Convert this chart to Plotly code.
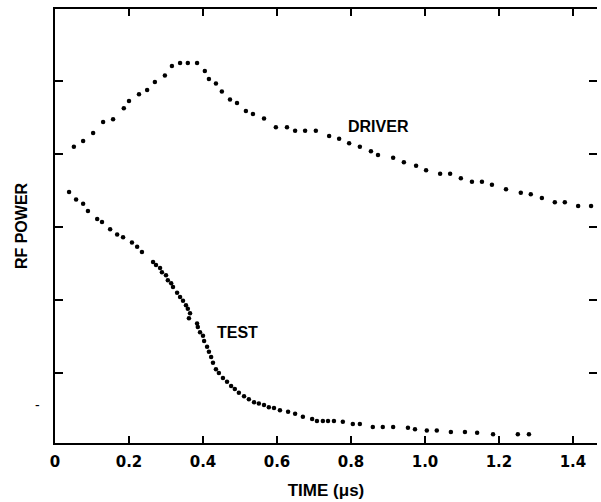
import plotly.graph_objects as go

# driver pulse
driver_t = [0.051, 0.076, 0.103, 0.130, 0.157, 0.186, 0.200, 0.227, 0.249, 0.270,
            0.297, 0.316, 0.338, 0.359, 0.384, 0.405, 0.416, 0.435, 0.451, 0.473,
            0.492, 0.516, 0.535, 0.565, 0.597, 0.627, 0.649, 0.676, 0.705, 0.741,
            0.768, 0.795, 0.824, 0.854, 0.873, 0.914, 0.943, 0.976, 1.003, 1.041,
            1.068, 1.097, 1.127, 1.154, 1.181, 1.219, 1.259, 1.286, 1.316, 1.351,
            1.378, 1.414, 1.449]
driver_p = [4.10, 4.18, 4.29, 4.44, 4.48, 4.63, 4.73, 4.82, 4.88, 4.99,
            5.08, 5.21, 5.25, 5.25, 5.25, 5.14, 5.03, 4.97, 4.86, 4.75,
            4.70, 4.59, 4.55, 4.49, 4.37, 4.37, 4.32, 4.32, 4.32, 4.25,
            4.21, 4.15, 4.10, 4.04, 3.99, 3.95, 3.89, 3.84, 3.78, 3.73,
            3.73, 3.67, 3.62, 3.62, 3.58, 3.52, 3.47, 3.45, 3.40, 3.34,
            3.34, 3.29, 3.29]

# test pulse
test_t = [0.038, 0.057, 0.076, 0.089, 0.114, 0.127, 0.149, 0.168, 0.184, 0.208,
          0.222, 0.235, 0.265, 0.273, 0.284, 0.289, 0.300, 0.305, 0.314, 0.319,
          0.330, 0.338, 0.346, 0.354, 0.359, 0.365, 0.362, 0.384, 0.386, 0.392,
          0.400, 0.403, 0.411, 0.416, 0.422, 0.427, 0.435, 0.443, 0.454, 0.465,
          0.476, 0.486, 0.497, 0.511, 0.524, 0.538, 0.551, 0.565, 0.578, 0.592,
          0.608, 0.630, 0.649, 0.670, 0.695, 0.708, 0.724, 0.738, 0.754, 0.778,
          0.805, 0.824, 0.859, 0.886, 0.914, 0.954, 0.973, 1.005, 1.032, 1.070,
          1.108, 1.141, 1.184, 1.251, 1.281]
test_p = [3.48, 3.38, 3.32, 3.22, 3.11, 3.07, 2.97, 2.90, 2.86, 2.79,
          2.73, 2.66, 2.52, 2.48, 2.44, 2.38, 2.34, 2.27, 2.23, 2.18,
          2.10, 2.04, 1.99, 1.93, 1.88, 1.82, 1.75, 1.68, 1.63, 1.56,
          1.51, 1.44, 1.36, 1.29, 1.22, 1.14, 1.05, 1.00, 0.93, 0.88,
          0.82, 0.78, 0.73, 0.68, 0.64, 0.60, 0.58, 0.56, 0.53, 0.52,
          0.49, 0.47, 0.44, 0.40, 0.37, 0.34, 0.34, 0.34, 0.34, 0.33,
          0.30, 0.30, 0.26, 0.26, 0.26, 0.25, 0.23, 0.21, 0.21, 0.19,
          0.19, 0.18, 0.16, 0.16, 0.16]

x_ticks = [0, 0.2, 0.4, 0.6, 0.8, 1.0, 1.2, 1.4]
x_ticktext = ['0', '0.2', '0.4', '0.6', '0.8', '1.0', '1.2', '1.4']
y_ticks = [1, 2, 3, 4, 5]

font_name = 'Liberation Sans'
mk = dict(color='black', size=4.5)

fig = go.Figure()
fig.add_trace(go.Scatter(x=driver_t, y=driver_p, mode='markers', marker=mk, showlegend=False))
fig.add_trace(go.Scatter(x=test_t, y=test_p, mode='markers', marker=mk, showlegend=False))
# invisible trace so the right-hand tick axis gets drawn
fig.add_trace(go.Scatter(x=[None], y=[None], yaxis='y2', showlegend=False, hoverinfo='skip'))

fig.add_annotation(x=0.875, y=4.38, text='DRIVER', showarrow=False,
                   font=dict(family=font_name, size=16, color='black', weight='bold'))
fig.add_annotation(x=0.492, y=1.56, text='TEST', showarrow=False,
                   font=dict(family=font_name, size=16, color='black', weight='bold'))
fig.add_annotation(x=-0.04, xref='paper', y=0.56, text='-', showarrow=False,
                   font=dict(family=font_name, size=14, color='black'))

fig.update_layout(
    width=601, height=502,
    margin=dict(l=55, r=4, t=9, b=59),
    plot_bgcolor='white', paper_bgcolor='white',
    font=dict(family=font_name, color='black'),
    xaxis=dict(range=[0, 1.465], tickvals=x_ticks, ticktext=x_ticktext,
               ticks='inside', ticklen=7, tickwidth=1.5, tickcolor='black',
               showline=True, linecolor='black', linewidth=2, mirror='ticks',
               showgrid=False, zeroline=False, automargin=False,
               ticklabelstandoff=4,
               tickfont=dict(family='DejaVu Sans', size=15, weight='bold'),
               title=dict(text='TIME (μs)', standoff=14,
                          font=dict(size=17, weight='bold'))),
    yaxis=dict(range=[0.04, 5.99], tickvals=y_ticks, showticklabels=False,
               ticks='inside', ticklen=8, tickwidth=1.5, tickcolor='black',
               showline=True, linecolor='black', linewidth=2,
               showgrid=False, zeroline=False, automargin=False,
               title=dict(text='RF POWER', standoff=21,
                          font=dict(size=16, weight='bold'))),
    yaxis2=dict(range=[0.04, 5.99], tickvals=y_ticks, showticklabels=False,
                overlaying='y', side='right', matches='y',
                ticks='inside', ticklen=8, tickwidth=1.5, tickcolor='black',
                showline=False, showgrid=False, zeroline=False),
)

# page body has a default 8px margin, drop it so the figure sits at 0,0
fig.write_html('out.html', config={'displayModeBar': False},
               post_script="document.body.style.margin='0';")
